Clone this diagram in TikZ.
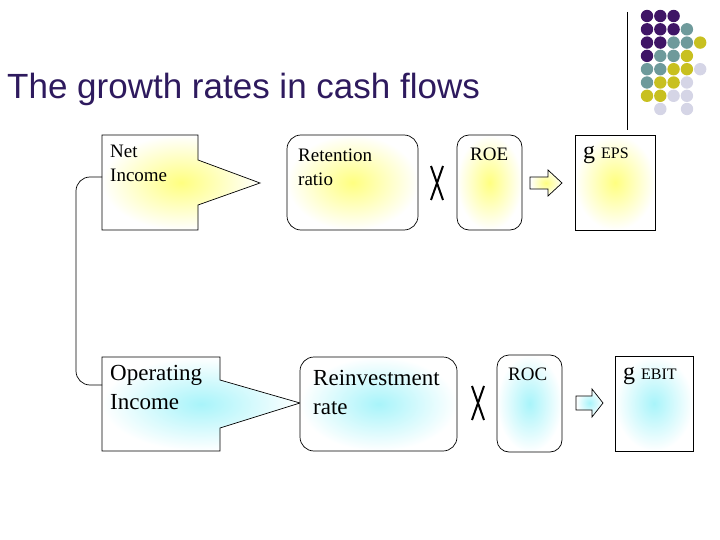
\documentclass[tikz,border=0pt]{standalone}
\usepackage{fontspec}
\setmainfont{Liberation Serif}
\newfontfamily\arialf{Liberation Sans}
\definecolor{ttl}{HTML}{2E1A5E}
\definecolor{dp}{HTML}{3F1566}
\definecolor{dt}{HTML}{6E9A9B}
\definecolor{dy}{HTML}{C8C020}
\definecolor{dl}{HTML}{D5D5E6}
\definecolor{yel}{HTML}{FFFF80}
\definecolor{cy}{HTML}{A8F4FA}
\begin{document}
\begin{tikzpicture}[x=1pt,y=-1pt,
  yshade/.style={draw=black,line width=0.7pt,inner color=yel,outer color=white},
  cshade/.style={draw=black,line width=0.7pt,inner color=cy,outer color=white},
  lbl/.style={anchor=north west,inner sep=0pt,align=left,font=\fontsize{19}{24}\selectfont},
  bigl/.style={anchor=north west,inner sep=0pt,align=left,font=\fontsize{23}{29}\selectfont},
  xm/.style={line width=2pt},
  barrow/.style={draw=black,line width=0.7pt}]
\useasboundingbox (0,0) rectangle (720,540);
% decoration
\draw[line width=0.8pt] (627,12) -- (627,130);
\foreach \r/\row in {0/{dp,dp,dp},1/{dp,dp,dp,dt},2/{dp,dp,dt,dt,dy},3/{dp,dt,dt,dy},4/{dt,dt,dy,dy,dl},5/{dt,dy,dy,dl},6/{dy,dy,dl,dl}}{
  \foreach \c [count=\i from 0] in \row { \fill[\c] (647+13.3*\i,16+13.3*\r) circle (6.2); }}
\fill[dl] (660.3,109) circle (6.2);
\fill[dl] (687,109) circle (6.2);
% title
\node[anchor=west,inner sep=0pt,text=ttl,font=\arialf\fontsize{35}{38}\selectfont] (title) at (7,89) {The growth rates in cash flows};
% top row
\path[yshade] (102,135) -- (198,135) -- (198,160) -- (260,183) -- (198,205) -- (198,230) -- (102,230) -- cycle;
\node[lbl] (ni) at (110,145) {Net\\Income};
\path[yshade,rounded corners=14] (287,135) rectangle (418,230);
\node[lbl] (rr) at (298,149) {Retention\\ratio};
\draw[xm] (431,166) -- (443,200) (443,166) -- (431,200);
\path[yshade,rounded corners=12] (457,135) rectangle (522,230);
\node[lbl] (roe) at (470,148) {ROE};
\path[barrow,inner color=yel,outer color=white] (530,177) -- (548,177) -- (548,170) -- (562,183) -- (548,196) -- (548,189) -- (530,189) -- cycle;
\path[yshade] (575,135) rectangle (655,230);
\node[anchor=north west,inner sep=0pt] (geps) at (583,146) {\fontsize{24}{26}\selectfont g \fontsize{16}{18}\selectfont EPS};
% bottom row
\path[cshade] (102,357) -- (220,357) -- (220,380) -- (300,403) -- (220,428) -- (220,451) -- (102,451) -- cycle;
\node[bigl] (oi) at (110,365) {Operating\\Income};
\path[cshade,rounded corners=14] (300,357) rectangle (457,451);
\node[bigl] (ri) at (313,370) {Reinvestment\\rate};
\draw[xm] (472,386) -- (484,420) (484,386) -- (472,420);
\path[cshade,rounded corners=12] (497,355) rectangle (562,452);
\node[lbl] (roc) at (508,368) {ROC};
\path[barrow,inner color=cy,outer color=white] (576,396) -- (592,396) -- (592,389) -- (603,403) -- (592,417) -- (592,410) -- (576,410) -- cycle;
\path[cshade] (615,356) rectangle (693,451);
\node[anchor=north west,inner sep=0pt] (gebit) at (623,367) {\fontsize{24}{26}\selectfont g \fontsize{16}{18}\selectfont EBIT};
% connector
\coordinate (a) at (102,177);
\coordinate (b) at (102,385);
\draw[line width=0.7pt,rounded corners=14] (a) -- (76,177) -- (76,385) -- (b);
\end{tikzpicture}
\end{document}
